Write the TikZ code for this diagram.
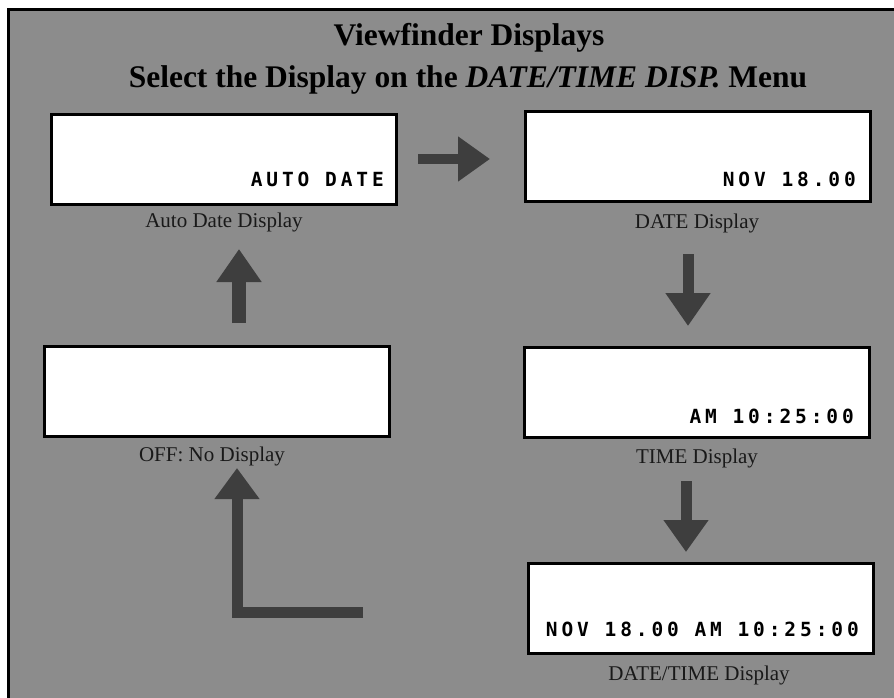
\documentclass[tikz,border=0pt]{standalone}
\usepackage{fontspec}
\setmainfont{Liberation Serif}
\newfontfamily\lcdfont[LetterSpace=20]{DejaVu Sans Mono Bold}
\usetikzlibrary{arrows.meta}
\definecolor{bggray}{RGB}{140,140,140}
\definecolor{arrowgray}{RGB}{62,62,62}
\definecolor{labelink}{RGB}{25,25,25}
\begin{document}
\begin{tikzpicture}[x=1pt,y=-1pt,
  screen/.style={draw=black, line width=3pt, fill=white, minimum width=345pt, minimum height=90pt, inner sep=0pt, outer sep=0pt},
  lcd/.style={anchor=base east, inner sep=0pt, font=\lcdfont\fontsize{19.5}{21}\selectfont, text=black},
  caption/.style={anchor=base, inner sep=0pt, font=\fontsize{21}{24}\selectfont, text=labelink},
  titletext/.style={anchor=base, inner sep=0pt, font=\bfseries\fontsize{31.5}{34}\selectfont, text=black},
  blockarrow/.style={draw=arrowgray, line width=#1, line cap=butt, line join=miter},
  ]
\useasboundingbox (0,0) rectangle (894,698);
% background panel
\fill[bggray] (8,10) rectangle (894,698);
\draw[line width=3pt, line cap=rect] (8,698) -- (8,10) -- (894,10);

% title
\node[titletext] (t1) at (469,46) {Viewfinder Displays};
\node[titletext] (t2) at (468,88) {Select the Display on the \textit{DATE/TIME DISP.} Menu};

% screens
\node[screen] (auto) at (224,159.5) {};
\node[screen] (date) at (698,156.5) {};
\node[screen] (off)  at (217,391.5) {};
\node[screen] (time) at (697,392.5) {};
\node[screen] (dt)   at (700.5,608) {};

% screen texts
\node[lcd] (autotxt) at (384,186) {AUTO DATE};
\node[lcd] (datetxt) at (856,186) {NOV 18.00};
\node[lcd] (timetxt) at (854,423) {AM 10:25:00};
\node[lcd] (dttxt)   at (859,636) {NOV 18.00 AM 10:25:00};

% captions
\node[caption] (autocap) at (224,227) {Auto Date Display};
\node[caption] (datecap) at (697,228) {DATE Display};
\node[caption] (offcap)  at (212,461) {OFF: No Display};
\node[caption] (timecap) at (697,463) {TIME Display};
\node[caption] (dtcap)   at (699,680) {DATE/TIME Display};

% arrow end points
\coordinate (a1s) at (418,159);
\coordinate (a1e) at (490,159);
\coordinate (a2s) at (239,323);
\coordinate (a2e) at (239,249);
\coordinate (a3s) at (688,254);
\coordinate (a3e) at (688,326);
\coordinate (a4s) at (686,481);
\coordinate (a4e) at (686,552);
\coordinate (a5s) at (363,612.5);
\coordinate (a5c) at (237,612.5);
\coordinate (a5e) at (237,468);

% arrows
\draw[blockarrow=10pt, -{Triangle[width=43pt,length=32pt]}, arrowgray] (a1s) -- (a1e);
\draw[blockarrow=14pt, -{Triangle[width=43pt,length=33pt]}, arrowgray] (a2s) -- (a2e);
\draw[blockarrow=11pt, -{Triangle[width=43pt,length=33pt]}, arrowgray] (a3s) -- (a3e);
\draw[blockarrow=11pt, -{Triangle[width=43pt,length=32pt]}, arrowgray] (a4s) -- (a4e);
\draw[blockarrow=11pt, -{Triangle[width=43pt,length=31pt]}, arrowgray] (a5s) -- (a5c) -- (a5e);
\end{tikzpicture}
\end{document}
